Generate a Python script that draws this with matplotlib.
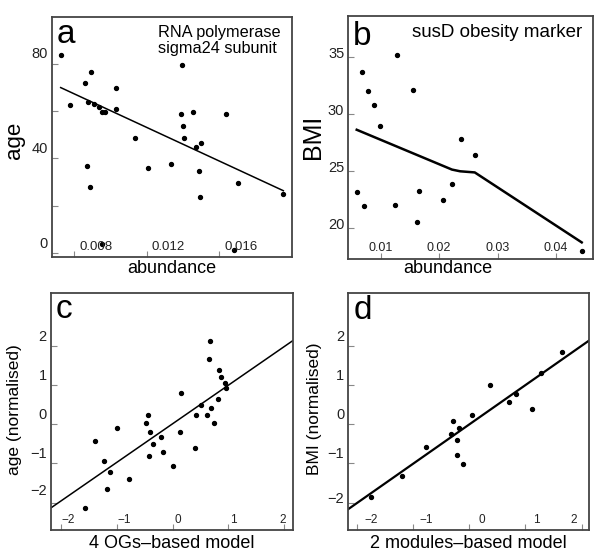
import matplotlib
matplotlib.use("Agg")
import matplotlib.pyplot as plt
from matplotlib.transforms import blended_transform_factory, offset_copy

plt.rcParams['font.family'] = ['Liberation Sans', 'DejaVu Sans']

# panel a: RNA polymerase sigma24 subunit
a_abund = [0.00725, 0.00775, 0.00859, 0.00892, 0.00877, 0.00907, 0.00935, 0.00952,
           0.00972, 0.01029, 0.01029, 0.00870, 0.00887, 0.01136, 0.01209, 0.01335,
           0.01396, 0.01390, 0.01400, 0.01407, 0.01458, 0.01473, 0.01499, 0.01490,
           0.01494, 0.01637, 0.01707, 0.01956, 0.01683, 0.00955]
a_age = [83.7, 62.7, 71.7, 76.6, 63.7, 62.9, 61.9, 59.7, 59.7, 69.7, 60.8, 36.8,
         27.8, 48.8, 35.9, 37.8, 79.6, 58.8, 53.8, 48.8, 59.7, 44.9, 46.7, 34.9,
         23.9, 58.8, 29.8, 24.9, 1.4, 3.8]
a_fit_x = [0.00725, 0.01956]
a_fit_y = [69.9, 26.4]
a_xticks = [0.008, 0.012, 0.016]
a_xticklabels = ['0.008', '0.012', '0.016']
a_yticks = [0, 20, 40, 60, 80]
a_ylabeled = [0, 40, 80]

# panel b: susD obesity marker
b_abund = [0.0059, 0.00685, 0.0072, 0.0078, 0.0089, 0.0098, 0.0125, 0.0128,
           0.0155, 0.0162, 0.0166, 0.0207, 0.0222, 0.0237, 0.0261, 0.0444]
b_bmi = [23.1, 33.7, 21.9, 32.0, 30.8, 28.9, 22.0, 35.2, 32.1, 20.5, 23.2, 22.4,
         23.8, 27.8, 26.4, 17.9]
b_curve_x = [0.0059, 0.0222, 0.0236, 0.0261, 0.0444]
b_curve_y = [28.6, 25.1, 24.95, 24.85, 18.7]
b_xticks = [0.01, 0.02, 0.03, 0.04]
b_xticklabels = ['0.01', '0.02', '0.03', '0.04']
b_yticks = [20, 25, 30, 35]

# panel c: 4 OGs-based model
c_model = [0.67, 0.65, 0.84, 0.88, 0.94, 0.96, 0.82, 0.16, 0.51, 0.70, 0.42, 0.62,
           0.74, -0.45, -0.47, -0.40, -0.99, 0.13, -0.20, -0.35, -1.40, -0.17,
           -0.42, 0.40, -1.23, -1.13, 0.01, -0.79, -1.18, -1.58]
c_age = [2.13, 1.66, 1.39, 1.20, 1.05, 0.92, 0.64, 0.79, 0.49, 0.41, 0.24, 0.24,
         0.04, 0.24, 0.03, -0.21, -0.09, -0.21, -0.33, -0.50, -0.42, -0.70, -0.81,
         -0.60, -0.93, -1.22, -1.06, -1.40, -1.66, -2.14]
c_fit_x = [-2.20, 2.16]
c_fit_y = [-2.15, 2.13]

# panel d: 2 modules-based model
d_model = [-1.75, -1.20, -0.77, -0.29, -0.33, -0.19, -0.22, -0.22, -0.11, 0.05,
           0.36, 0.71, 0.83, 1.12, 1.27, 1.66]
d_bmi = [-1.86, -1.32, -0.59, 0.07, -0.25, -0.09, -0.41, -0.78, -1.01, 0.23,
         0.99, 0.57, 0.77, 0.39, 1.30, 1.84]
d_fit_x = [-2.16, 2.13]
d_fit_y = [-2.17, 2.13]

norm_ticks = [-2, -1, 0, 1, 2]
norm_labels = ['\u22122', '\u22121', '0', '1', '2']

W, H = 600, 557
fig = plt.figure(figsize=(W / 100, H / 100), dpi=100)


def px_axes(l, t, r, b):
    ax = fig.add_axes([l / W, 1 - b / H, (r - l) / W, (b - t) / H])
    for s in ax.spines.values():
        s.set_color('#444444')
        s.set_linewidth(1.3)
    ax.tick_params(direction='in', length=4, width=0.8, color='#888888',
                   labelbottom=False, labelleft=False)
    return ax


def xlabs(ax, ticks, labels, dxs, up, size):
    tr = blended_transform_factory(ax.transData, ax.transAxes)
    for t, lab, dx in zip(ticks, labels, dxs):
        ax.text(t, 0, lab, ha='center', va='center', fontsize=size, color='#222222',
                transform=offset_copy(tr, fig=fig, x=dx, y=up, units='dots'))


def ylabs(ax, ticks, labels, dys, left, size):
    tr = blended_transform_factory(ax.transAxes, ax.transData)
    for t, lab, dy in zip(ticks, labels, dys):
        ax.text(0, t, lab, ha='right', va='center', fontsize=size, color='#222222',
                transform=offset_copy(tr, fig=fig, x=-left, y=dy, units='dots'),
                clip_on=False)


def ftext(x, y, s, **kw):
    fig.text(x / W, 1 - y / H, s, **kw)


# ---- a ----
ax = px_axes(52, 16.7, 292, 257.3)
ax.scatter(a_abund, a_age, s=8, color='black', zorder=3, clip_on=False)
ax.plot(a_fit_x, a_fit_y, color='black', lw=1.1)
ax.set_xlim(0.00677, 0.02004)
ax.set_ylim(-1.7, 99.8)
ax.set_xticks(a_xticks)
ax.set_yticks(a_yticks)
xlabs(ax, a_xticks, a_xticklabels, [22, 22, 22], 10.5, 9.5)
ylabs(ax, a_ylabeled, [str(v) for v in a_ylabeled], [9.5, 9.5, 9.5], 4, 10.5)
ftext(57, 43.3, 'a', fontsize=24)
ftext(157.5, 36.7, 'RNA polymerase', fontsize=11.7)
ftext(157.5, 53.3, 'sigma24 subunit', fontsize=11.7)
ftext(15, 140, 'age', fontsize=16, rotation=90, ha='center', va='center')
ftext(171.7, 268.3, 'abundance', fontsize=13, ha='center', va='center')

# ---- b ----
ax = px_axes(348.3, 16, 592.7, 259)
ax.scatter(b_abund, b_bmi, s=8, color='black', zorder=3, clip_on=False)
ax.plot(b_curve_x, b_curve_y, color='black', lw=1.8)
ax.set_xlim(0.00446, 0.04628)
ax.set_ylim(17.24, 38.6)
ax.set_xticks(b_xticks)
ax.set_yticks(b_yticks)
xlabs(ax, b_xticks, b_xticklabels, [0, 0, 0, 0], 10.7, 9)
ylabs(ax, b_yticks, [str(v) for v in b_yticks], [3, 3, 3, 3], 4, 10.5)
ftext(353.3, 45, 'b', fontsize=24)
ftext(582.7, 36.7, 'susD obesity marker', fontsize=13.5, ha='right')
ftext(313.3, 137, 'BMI', fontsize=18, rotation=90, ha='center', va='center')
ftext(448.3, 268.3, 'abundance', fontsize=13, ha='center', va='center')

# ---- c ----
ax = px_axes(50.7, 293.3, 292.7, 530)
ax.scatter(c_model, c_age, s=8, color='black', zorder=3, clip_on=False)
ax.plot(c_fit_x, c_fit_y, color='black', lw=1.1)
ax.set_xlim(-2.19, 2.16)
ax.set_ylim(-2.70, 3.34)
ax.set_xticks(norm_ticks)
ax.set_yticks(norm_ticks)
xlabs(ax, norm_ticks, norm_labels, [7, 7, 5, 5, -1.5], 10, 8.5)
ylabs(ax, norm_ticks, norm_labels, [12, 9, 9, 9, 9], 4, 10.5)
ftext(56, 318.3, 'c', fontsize=24)
ftext(15, 410, 'age (normalised)', fontsize=12.5, rotation=90, ha='center', va='center')
ftext(171.7, 543.3, '4 OGs\u2013based model', fontsize=13, ha='center', va='center')

# ---- d ----
ax = px_axes(348.3, 293.3, 588.7, 530)
ax.scatter(d_model, d_bmi, s=8, color='black', zorder=3, clip_on=False)
ax.plot(d_fit_x, d_fit_y, color='black', lw=1.6)
ax.set_xlim(-2.157, 2.128)
ax.set_ylim(-2.70, 3.34)
ax.set_xticks(norm_ticks)
ax.set_yticks(norm_ticks)
xlabs(ax, norm_ticks, norm_labels, [14, 13, 12, 11, -8], 10, 8.5)
ylabs(ax, norm_ticks, norm_labels, [4, 9, 9, 9, 9], 4, 10.5)
ftext(353.3, 319.3, 'd', fontsize=24)
ftext(315, 408.3, 'BMI (normalised)', fontsize=12.5, rotation=90, ha='center', va='center')
ftext(468.3, 543.3, '2 modules\u2013based model', fontsize=13, ha='center', va='center')

fig.savefig('out.png', dpi=100)
